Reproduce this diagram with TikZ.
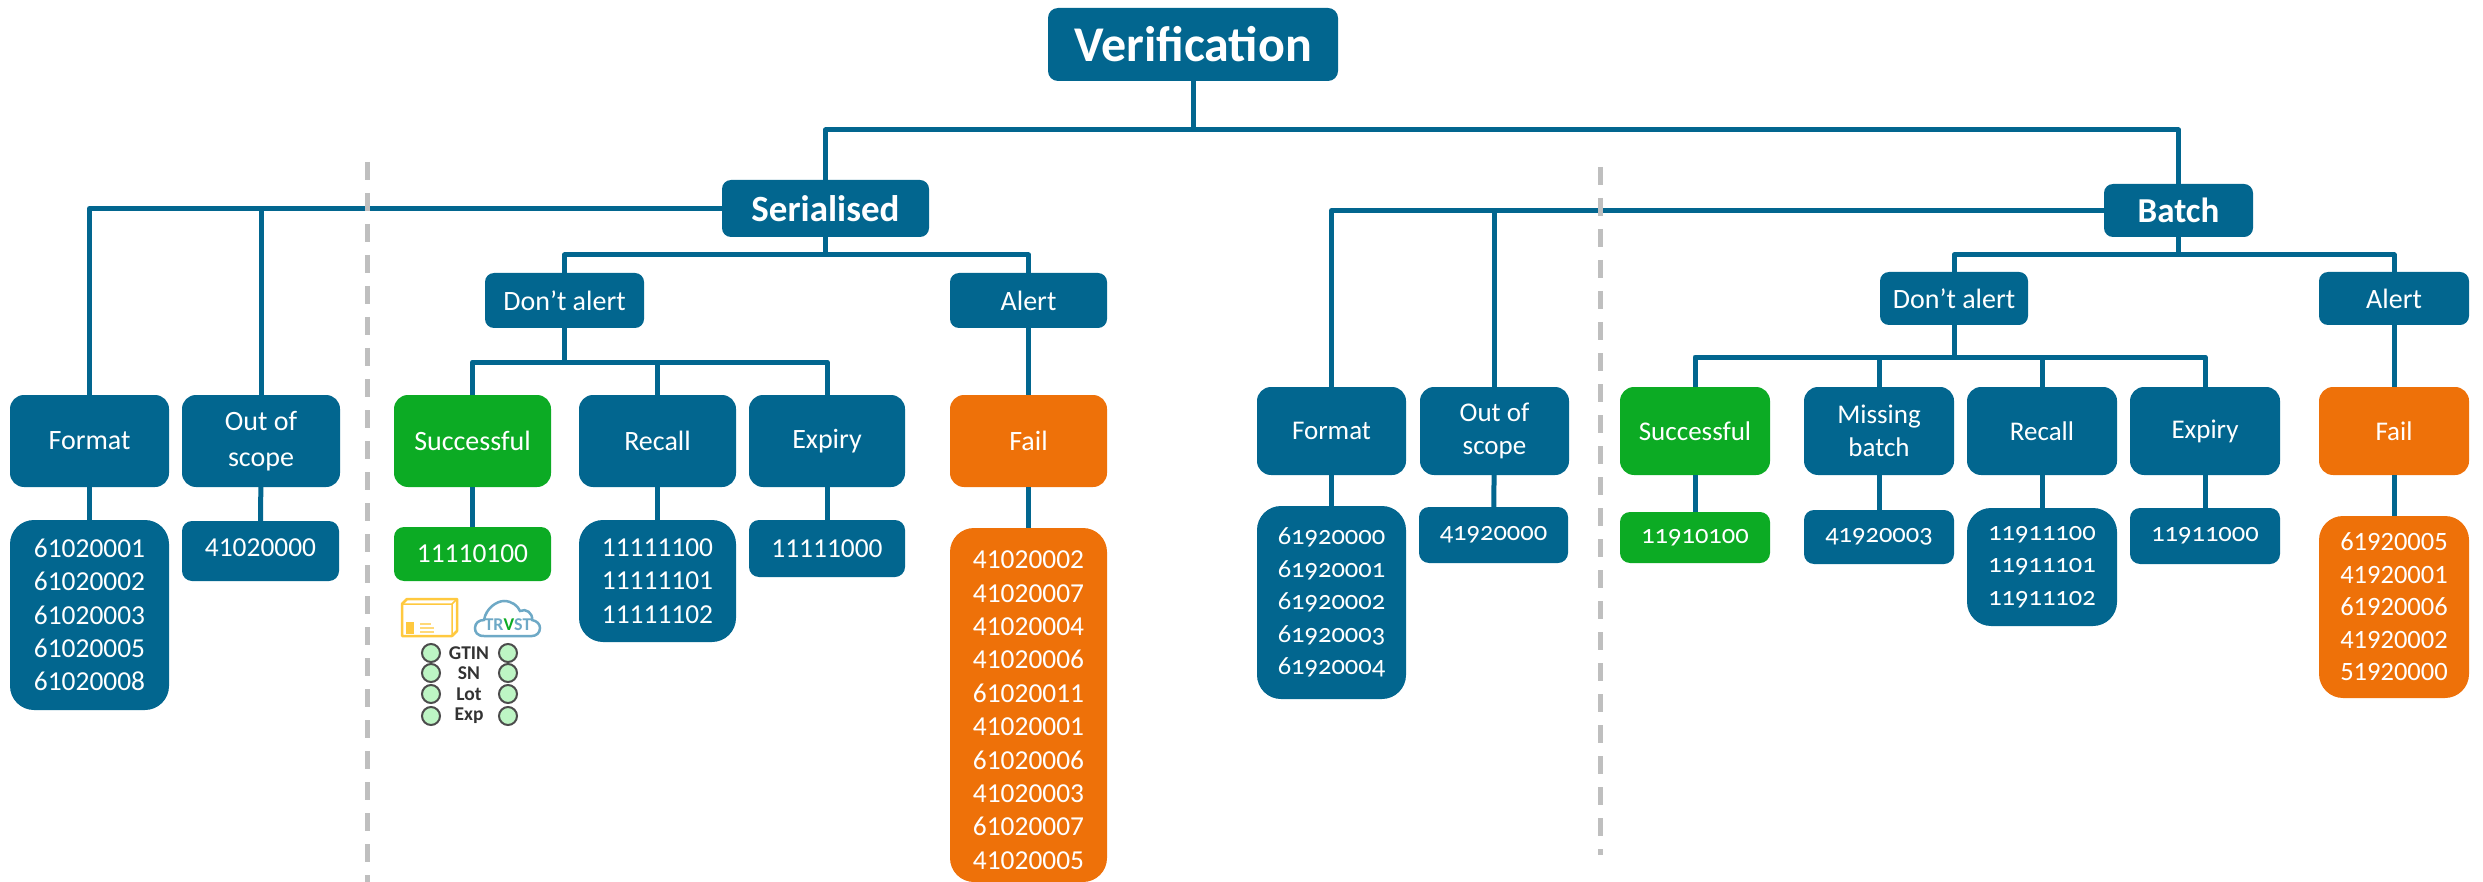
\documentclass[tikz,border=0pt]{standalone}
\usepackage{fontspec}
\setmainfont{Carlito}
\newfontfamily\oldnum[Numbers=OldStyle]{Carlito}
\definecolor{vblue}{HTML}{02668F}
\definecolor{vgreen}{HTML}{0CAB24}
\definecolor{vorange}{HTML}{EE7109}
\definecolor{vgrey}{HTML}{BFBFBF}
\definecolor{vyellow}{HTML}{FFC93F}
\definecolor{vcloud}{HTML}{6EA9C6}
\definecolor{vled}{HTML}{BDF5C4}
\newcommand{\bx}[7]{%
  \pgfmathsetmacro\cxx{(#3+#5)/2}\pgfmathsetmacro\cyy{(#4+#6)/2}%
  \pgfmathsetmacro\ww{#5-#3}\pgfmathsetmacro\hh{#6-#4}%
  \node[#2,minimum width=\ww pt,minimum height=\hh pt] (#1) at (\cxx,\cyy) {#7};}
\tikzset{
  base/.style={inner sep=0pt,outer sep=0pt,text=white,align=center,fill=vblue,rounded corners=14pt,font=\fontsize{28}{36}\selectfont},
  title/.style={base,rounded corners=10pt,font=\fontsize{50}{56}\bfseries\selectfont},
  head/.style={base,rounded corners=9pt,font=\fontsize{35}{40}\bfseries\selectfont},
  mid/.style={base,rounded corners=9pt},
  batchlabel/.style={base,font=\fontsize{27}{33}\selectfont},
  listA/.style={base,rounded corners=24pt,font=\fontsize{27.4}{33.4}\selectfont},
  listS/.style={base,rounded corners=10pt,font=\fontsize{27.4}{33.4}\selectfont},
  listB/.style={base,rounded corners=24pt,font=\fontsize{26.5}{32.5}\oldnum\selectfont},
  listBS/.style={base,rounded corners=10pt,font=\fontsize{26.5}{32.5}\oldnum\selectfont},
  greenfill/.style={fill=vgreen},
  orangefill/.style={fill=vorange},
  conn/.style={draw=vblue,line width=5pt,line join=round},
  divider/.style={draw=vgrey,line width=5pt,dash pattern=on 18pt off 13pt},
  led/.style={circle,draw=black!70,fill=vled,line width=2pt,minimum size=18pt,inner sep=0pt},
  ledtext/.style={inner sep=0pt,text=black!80,font=\fontsize{19.5}{20}\bfseries\selectfont},
}
\begin{document}
\begin{tikzpicture}[x=1pt,y=-1pt]
\useasboundingbox (0,0) rectangle (2483,882);
\coordinate (mainbus) at (0,130);
\coordinate (sbus) at (0,255);
\coordinate (sbus2) at (0,362);
\coordinate (bbus) at (0,255);
\coordinate (bbus2) at (0,357);
% nodes
\bx{verif}{title}{1048}{8}{1338}{81}{Verification}
\bx{serial}{head,font=\fontsize{37}{40}\bfseries\selectfont}{722}{180}{929}{237}{Serialised}
\bx{batch}{head}{2104}{184}{2253}{237}{Batch}
% serialised
\bx{sdont}{mid}{485}{273}{644}{328}{Don’t alert}
\bx{salert}{mid}{950}{273}{1107}{328}{Alert}
\bx{sfmt}{base}{10}{395}{169}{487}{Format}
\bx{soos}{base}{182}{395}{340}{487}{Out of\\scope}
\bx{ssucc}{base,greenfill}{394}{395}{551}{487}{Successful}
\bx{srec}{base}{579}{395}{736}{487}{Recall}
\bx{sexp}{base}{749}{395}{905}{487}{Expiry}
\bx{sfail}{base,orangefill}{950}{395}{1107}{487}{Fail}
\bx{sfmtl}{listA}{10}{520}{169}{710}{61020001\\61020002\\61020003\\61020005\\61020008}
\bx{soosl}{listS}{182}{521}{339}{581}{41020000\rule[-6pt]{0pt}{6pt}}
\bx{ssuccl}{listS,greenfill}{394}{527}{551}{581}{11110100}
\bx{srecl}{listA}{579}{520}{736}{642}{11111100\\11111101\\11111102}
\bx{sexpl}{listS}{749}{520}{905}{577}{11111000}
\bx{sfaill}{listA,orangefill}{950}{528}{1107}{882}{\rule{0pt}{28pt}41020002\\41020007\\41020004\\41020006\\61020011\\41020001\\61020006\\41020003\\61020007\\41020005}
% batch
\bx{bdont}{mid}{1880}{272}{2028}{325}{Don’t alert}
\bx{balert}{mid}{2319}{272}{2469}{325}{Alert}
\bx{bfmt}{batchlabel}{1257}{387}{1406}{475}{Format}
\bx{boos}{batchlabel}{1420}{387}{1569}{475}{Out of\\scope}
\bx{bsucc}{batchlabel,greenfill}{1620}{387}{1770}{475}{Successful}
\bx{bmiss}{batchlabel}{1804}{387}{1954}{475}{Missing\\batch}
\bx{brec}{batchlabel}{1967}{387}{2117}{475}{Recall}
\bx{bexp}{batchlabel}{2130}{387}{2280}{475}{Expiry}
\bx{bfail}{batchlabel,orangefill}{2319}{387}{2469}{475}{Fail}
\bx{bfmtl}{listB}{1257}{506}{1406}{699}{61920000\\61920001\\61920002\\61920003\\61920004}
\bx{boosl}{listBS}{1419}{507}{1568}{563}{41920000}
\bx{bsuccl}{listBS,greenfill}{1620}{512}{1770}{563}{11910100}
\bx{bmissl}{listBS}{1804}{510}{1954}{564}{41920003}
\bx{brecl}{listB}{1967}{508}{2117}{626}{11911100\\11911101\\11911102}
\bx{bexpl}{listBS}{2130}{508}{2280}{564}{11911000}
\bx{bfaill}{listA,orangefill,font=\fontsize{26.5}{32.5}\selectfont}{2319}{516}{2469}{698}{61920005\\41920001\\61920006\\41920002\\51920000}
% connectors
\draw[conn] (verif.south) -- (verif.south |- mainbus);
\draw[conn] (serial.north) -- (serial.north |- mainbus) -- (batch.north |- mainbus) -- (batch.north);
\draw[conn] (serial.west) -| (sfmt.north);
\draw[conn] (serial.west) -| (soos.north);
\draw[conn] (serial.south) -- (serial.south |- sbus);
\draw[conn] (sdont.north) -- (sdont.north |- sbus) -- (salert.north |- sbus) -- (salert.north);
\draw[conn] (sdont.south) -- (sdont.south |- sbus2);
\draw[conn] (ssucc.north) -- (ssucc.north |- sbus2) -- (sexp.north |- sbus2) -- (sexp.north);
\draw[conn] (srec.north) -- (srec.north |- sbus2);
\draw[conn] (salert) -- (sfail);
\draw[conn] (sfmt) -- (sfmtl);
\draw[conn] (soos) -- (soosl);
\draw[conn] (ssucc) -- (ssuccl);
\draw[conn] (srec) -- (srecl);
\draw[conn] (sexp) -- (sexpl);
\draw[conn] (sfail) -- (sfaill);
\draw[conn] (batch.west) -| (bfmt.north);
\draw[conn] (batch.west) -| (boos.north);
\draw[conn] (batch.south) -- (batch.south |- bbus);
\draw[conn] (bdont.north) -- (bdont.north |- bbus) -- (balert.north |- bbus) -- (balert.north);
\draw[conn] (bdont.south) -- (bdont.south |- bbus2);
\draw[conn] (bsucc.north) -- (bsucc.north |- bbus2) -- (bexp.north |- bbus2) -- (bexp.north);
\draw[conn] (bmiss.north) -- (bmiss.north |- bbus2);
\draw[conn] (brec.north) -- (brec.north |- bbus2);
\draw[conn] (balert) -- (bfail);
\draw[conn] (bfmt) -- (bfmtl);
\draw[conn] (boos) -- (boosl);
\draw[conn] (bsucc) -- (bsuccl);
\draw[conn] (bmiss) -- (bmissl);
\draw[conn] (brec) -- (brecl);
\draw[conn] (bexp) -- (bexpl);
\draw[conn] (bfail) -- (bfaill);
% dividers
\draw[divider] (367,162) -- (367,882);
\draw[divider] (1600,167) -- (1600,855);
% card icon
\draw[vyellow,line width=2.5pt,line join=round,fill=white] (402,604) -- (407,599) -- (457,599) -- (457,631) -- (452,636) -- (402,636) -- cycle;
\draw[vyellow,line width=1.5pt] (402,604) -- (452,604) -- (457,599) (452,604) -- (452,636);
\fill[vyellow] (406,622) rectangle (414,634);
\draw[vyellow!70,line width=1.5pt] (420,624) -- (431,624) (420,628) -- (434,628) (420,632) -- (434,632);
% cloud icon
\draw[vcloud,line width=2.5pt,fill=white] (484,636) .. controls (477,636) and (475,632) .. (475,628) .. controls (475,623) and (479,620) .. (484,620) .. controls (486,608) and (497,601) .. (504,601) .. controls (512,601) and (518,606) .. (520,611) .. controls (526,608) and (533,613) .. (532,620) .. controls (537,621) and (540,624) .. (540,628) .. controls (540,633) and (536,636) .. (532,636) -- cycle;
\node[inner sep=0pt,text=vcloud,font=\fontsize{18}{18}\bfseries\selectfont] (trvst) at (508,625) {TR\textcolor{vgreen}{V}ST};
% status table
\foreach \nm/\yy/\lab in {a/653/GTIN,b/673/SN,c/694/Lot,d/716/Exp}{
  \node[led] (l\nm) at (431,\yy) {};
  \node[led] (r\nm) at (508,\yy) {};
  \node[ledtext] (t\nm) at (469,\yy) {\lab};
}
\end{tikzpicture}
\end{document}
